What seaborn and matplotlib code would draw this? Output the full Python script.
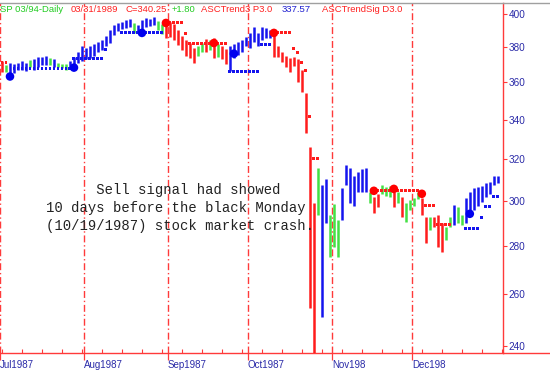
import numpy as np
import pandas as pd
import seaborn as sns
import matplotlib.pyplot as plt
from matplotlib.lines import Line2D
from matplotlib.ticker import MultipleLocator, NullLocator, FixedLocator

# daily bars Jul..Dec 1987 (high / low), colour = ASCTrend state
highs = [372, 369.5, 371, 370.5, 371, 372, 371, 372.5, 373, 374.5, 374.5, 375, 374, 373, 371, 370.5, 370.5, 372, 374.5, 377.5, 380.5,
         379.5, 381, 382, 383, 384.5, 386.5, 390.5, 393.5, 394.5, 395, 396.5, 397, 394.5, 393.5, 396.5, 397.5, 397, 398, 395.5, 394, 395,
         395, 394, 390.5, 386.5, 384.5, 382.5, 379.5, 380.5, 382.5, 385, 384, 385.5, 382, 381, 379, 380.5, 382, 383, 384.5, 386,
         388.5, 392, 388.5, 392, 391.5, 390.5, 389, 381, 377.5, 375, 374, 374.5, 373, 367, 354, 326, 299, 315.5, 307.5, 310.5, 293.5,
         298.5, 291.5, 306, 317, 315.5, 311.5, 313.5, 315, 315.5, 304, 302, 303, 307.5, 306.5, 307, 304, 304, 302, 299, 300.5,
         301.5, 304, 301.5, 292.5, 292.5, 292.5, 293.5, 290, 288, 292.5, 298, 297, 293.5, 301.5, 304, 306, 306.5, 307, 308.5, 309, 311.5, 311.5]
lows = [366, 366, 364.5, 365.5, 367, 367, 366.5, 368.5, 367, 368.5, 369.5, 370, 369.5, 368.5, 368.5, 368, 367, 368, 368.5, 371, 372,
        373, 374, 375, 377.5, 378.5, 380.5, 382.5, 387.5, 389.5, 391, 391.5, 392, 388.5, 389.5, 388.5, 392, 392.5, 393.5, 390.5, 388, 385.5,
        386, 384.5, 381.5, 378.5, 375, 374, 371, 375, 377.5, 377.5, 378.5, 374, 374.5, 373, 370.5, 366.5, 374, 375.5, 377.5, 380.5,
        379.5, 383, 380.5, 384.5, 385.5, 385.5, 374.5, 374.5, 371.5, 368.5, 366, 369, 360.5, 355, 333, 254.5, 234, 293.5, 251, 290, 275,
        279.5, 275, 291.5, 307.5, 299, 297.5, 304, 304, 304, 299, 294.5, 297, 303, 302.5, 302, 297, 299, 292.5, 290.5, 296,
        297.5, 301, 293.5, 281, 287, 288, 279.5, 277.5, 282.5, 288, 289, 290, 289, 290, 294.5, 296, 297.5, 299.5, 302, 303, 307.5, 308.5]
trend = ("rgbbbbbgbbbbgbgggbbbb"
         "bbbbbbbbbbbbgbbbbbggr"
         "rrrrrrrggrgrgrrbbbbb"
         "bbbbbbrrrrrrrrrrrgbbg"
         "ggbbbbbbbgrrgggrgrgg"
         "ggrrgrrrggbggbbbbbbbbb")

# trailing stop dots: first bar, last bar, level, side
stop_from = [0, 3, 18, 26, 30, 42, 46, 47, 57, 65, 68, 73, 74, 75, 76, 77, 78, 93, 106, 109, 116, 120, 121, 123]
stop_to = [1, 17, 25, 26, 40, 45, 46, 56, 64, 67, 72, 73, 74, 75, 76, 77, 79, 104, 108, 112, 119, 120, 122, 124]
stop_level = [371, 367.8, 373.5, 378.5, 388.5, 394.5, 388, 382, 366, 381.5, 388.5, 379.5, 377, 371, 366.5, 341.5, 320,
              305, 298, 289.5, 287.5, 292.5, 297.5, 302]
stop_side = ["r", "b", "b", "b", "b", "r", "r", "r", "b", "b", "r", "r", "r", "r", "r", "r", "r", "r", "r", "r", "b", "b", "b", "b"]

# big signal dots
sig_idx = [2, 18, 35, 41, 53, 58, 68, 93, 98, 105, 117]
sig_price = [363.3, 368.3, 388.5, 394.5, 382.5, 376.3, 388.5, 304.7, 305.6, 303.3, 294.1]
sig_side = ["b", "b", "b", "r", "r", "b", "r", "r", "r", "r", "b"]

month_start = [0, 21, 42, 62, 83, 103]
month_labels = ["Jul1987", "Aug1987", "Sep1987", "Oct1987", "Nov198", "Dec198"]
price_ticks = [240, 260, 280, 300, 320, 340, 360, 380, 400]

header = ["SP 03/94-Daily", "03/31/1989", "C=340.25", "+1.80", "ASCTrend3 P3.0", "337.57", "ASCTrendSig D3.0"]
header_col = ["g", "r", "r", "g", "r", "b", "r"]
header_x = [0, 71, 125, 172, 201, 282, 322]

note = ("      Sell signal had showed\n"
        "10 days before the black Monday\n"
        "(10/19/1987) stock market crash.")

pal = {"b": "#1414ee", "g": "#44e044", "r": "#ff1c1c"}
txt_pal = {"b": "#2020d0", "g": "#22cc22", "r": "#ff2020"}
tick_blue = "#2a2aa8"
axis_red = "#ff3a3a"

sns.set_style("white")
plt.rcParams["font.family"] = ["Liberation Sans", "DejaVu Sans"]

fig = plt.figure(figsize=(5.5, 3.78), dpi=100)
ax = fig.add_axes([0, 25 / 378, 503 / 550, 350 / 378])
ax.set_yscale("log")

bars = pd.DataFrame({"i": np.arange(len(highs)), "hi": highs, "lo": lows, "c": list(trend)})
ax.vlines(bars["i"], bars["lo"], bars["hi"], colors=[pal[c] for c in bars["c"]], lw=1.8, zorder=3)

rows = []
for a, b, lv, sd in zip(stop_from, stop_to, stop_level, stop_side):
    for k in range(a, b + 1):
        rows.append((k, lv, sd))
stops = pd.DataFrame(rows, columns=["i", "p", "c"])
sns.scatterplot(data=stops, x="i", y="p", hue="c", palette=pal, marker="s", s=4.5,
                linewidth=0, legend=False, ax=ax, zorder=4)

sigs = pd.DataFrame({"i": sig_idx, "p": sig_price, "c": sig_side})
sns.scatterplot(data=sigs, x="i", y="p", hue="c", palette={"b": "#0000ee", "r": "#ff0000"},
                marker="o", s=38, linewidth=0, legend=False, ax=ax, zorder=5)

for m in month_start:
    ax.axvline(m - 0.5, color=axis_red, ls=(0, (5, 2, 1, 2)), lw=1.0, zorder=1)

ax.set_xlim(-0.5, 125.3)
ax.set_ylim(237.4, 406.8)

ax.yaxis.tick_right()
ax.yaxis.set_major_locator(FixedLocator(price_ticks))
ax.yaxis.set_minor_locator(NullLocator())
ax.set_yticklabels([str(t) for t in price_ticks])
ax.tick_params(axis="y", which="major", right=True, length=3, width=0.8, color=axis_red,
               labelcolor=tick_blue, labelsize=7.2, pad=1)

ax.set_xticks([m - 0.5 for m in month_start])
ax.set_xticklabels(month_labels, ha="left")
ax.xaxis.set_minor_locator(MultipleLocator(5))
ax.tick_params(axis="x", which="major", bottom=True, length=5, width=0.9, color=axis_red,
               labelcolor=tick_blue, labelsize=7, pad=0)
ax.tick_params(axis="x", which="minor", bottom=True, direction="in", length=3, width=0.8, color=axis_red)
ax.set_xlabel("")
ax.set_ylabel("")

ax.spines["left"].set_visible(False)
ax.spines["right"].set_color(axis_red)
ax.spines["bottom"].set_color(axis_red)
ax.spines["top"].set_color("#a0a0a0")
for s in ax.spines.values():
    s.set_linewidth(1.0)

# bottom rule and top border carry on to the right edge
fig.add_artist(Line2D([503 / 550, 1], [25 / 378, 25 / 378], color=axis_red, lw=1.0))
fig.add_artist(Line2D([503 / 550, 1], [375 / 378, 375 / 378], color="#a0a0a0", lw=1.0))

for t, c, x in zip(header, header_col, header_x):
    fig.text(x / 550, 1 - 10 / 378, t, color=txt_pal[c], fontsize=6.8, va="center", ha="left")

fig.text(46 / 550, 1 - 208 / 378, note, family=["Liberation Mono", "DejaVu Sans Mono"],
         fontsize=10, va="center", ha="left", linespacing=1.4, color="#222222")

fig.savefig("out.png", dpi=100)
